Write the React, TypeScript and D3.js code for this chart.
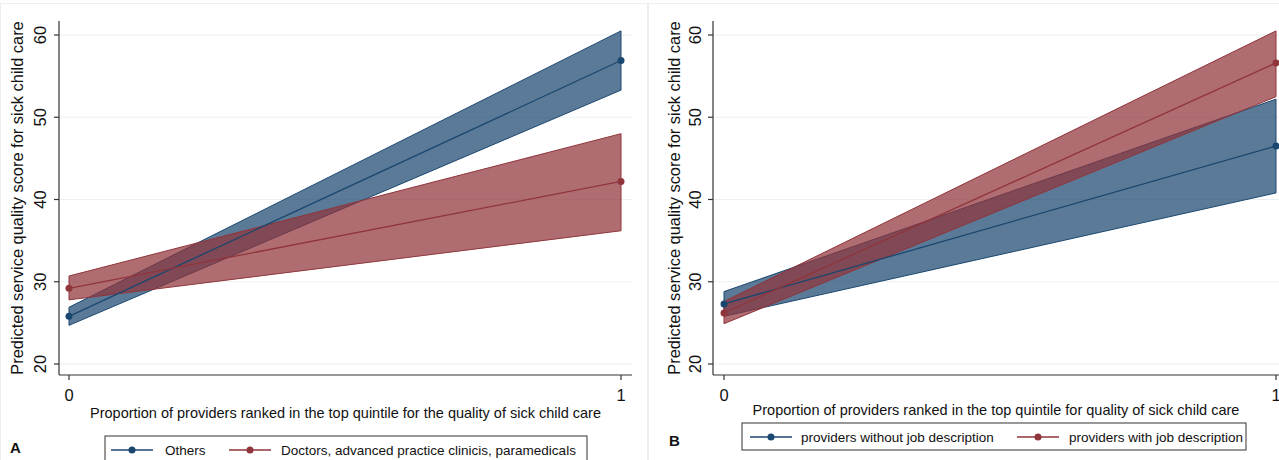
import React from "react";
import * as d3 from "d3";

// x values (proportion of providers in top quintile)
const xValues = [0, 1];
const xTicks = [0, 1];
const yTicks = [20, 30, 40, 50, 60];

// Panel A
const othersFit = [25.8, 56.9];
const othersLo = [24.7, 53.3];
const othersHi = [26.9, 60.5];
const doctorsFit = [29.2, 42.2];
const doctorsLo = [27.8, 36.2];
const doctorsHi = [30.7, 48.0];

// Panel B
const withoutFit = [27.3, 46.5];
const withoutLo = [25.8, 40.8];
const withoutHi = [28.8, 52.2];
const withFit = [26.2, 56.6];
const withLo = [24.9, 52.5];
const withHi = [27.6, 60.5];

const NAVY = "#1a476f";
const MAROON = "#90353b";
const FONT = "'Liberation Sans', Arial, sans-serif";

interface Series {
  name: string;
  color: string;
  fit: number[];
  lo: number[];
  hi: number[];
}

interface PanelProps {
  left: number;
  x0: number;
  x1: number;
  axisRight: number;
  titleX: number;
  tickLabelX: number;
  xTitle: string;
  xTitleY: number;
  letter: string;
  letterX: number;
  letterY: number;
  series: Series[];
  legend: { x: number; y: number; w: number; h: number; items: { lx: number; tx: number }[] };
}

const Panel: React.FC<PanelProps> = (p) => {
  const x = d3.scaleLinear().domain([0, 1]).range([p.x0, p.x1]);
  const y = d3.scaleLinear().domain([20, 60]).range([364, 35]);
  const top = 21;
  const bottom = 375;

  return (
    <g>
      {/* gridlines */}
      {yTicks.map((t) => (
        <line key={"g" + t} x1={p.left} x2={p.axisRight} y1={y(t)} y2={y(t)} stroke="#eaf0f1" strokeWidth={1.2} />
      ))}

      {/* bands */}
      {p.series.map((s) => {
        const pts = xValues.map((v, i) => ({ v, lo: s.lo[i], hi: s.hi[i] }));
        const area = d3
          .area<{ v: number; lo: number; hi: number }>()
          .x((d) => x(d.v))
          .y0((d) => y(d.lo))
          .y1((d) => y(d.hi));
        return (
          <path key={"a" + s.name} d={area(pts) || ""} fill={s.color} fillOpacity={0.72} stroke={s.color} strokeWidth={1} />
        );
      })}

      {/* fitted lines and markers */}
      {p.series.map((s) => {
        const pts = xValues.map((v, i) => ({ v, f: s.fit[i] }));
        const line = d3
          .line<{ v: number; f: number }>()
          .x((d) => x(d.v))
          .y((d) => y(d.f));
        return (
          <g key={"l" + s.name}>
            <path d={line(pts) || ""} fill="none" stroke={s.color} strokeWidth={1.3} />
            {pts.map((d, i) => (
              <circle key={i} cx={x(d.v)} cy={y(d.f)} r={3.5} fill={s.color} />
            ))}
          </g>
        );
      })}

      {/* y axis */}
      <line x1={p.left} x2={p.left} y1={top} y2={bottom} stroke="#333" strokeWidth={1.2} />
      {yTicks.map((t) => (
        <g key={"y" + t}>
          <line x1={p.left - 5} x2={p.left} y1={y(t)} y2={y(t)} stroke="#333" strokeWidth={1.2} />
          <text
            transform={`translate(${p.tickLabelX},${y(t)}) rotate(-90)`}
            textAnchor="middle"
            fontSize={16.5}
            fontFamily={FONT}
            fill="#111"
          >
            {t}
          </text>
        </g>
      ))}
      <text
        transform={`translate(${p.titleX},198) rotate(-90)`}
        textAnchor="middle"
        fontSize={16.4}
        fontFamily={FONT}
        fill="#111"
      >
        Predicted service quality score for sick child care
      </text>

      {/* x axis */}
      <line x1={p.left} x2={p.axisRight} y1={bottom} y2={bottom} stroke="#333" strokeWidth={1.2} />
      {xTicks.map((t) => (
        <g key={"x" + t}>
          <line x1={x(t)} x2={x(t)} y1={bottom} y2={bottom + 5} stroke="#333" strokeWidth={1.2} />
          <text x={x(t)} y={401} textAnchor="middle" fontSize={16.5} fontFamily={FONT} fill="#111">
            {t}
          </text>
        </g>
      ))}
      <text x={(p.left + Math.min(p.axisRight, 1279)) / 2} y={p.xTitleY} textAnchor="middle" fontSize={14.5} fontFamily={FONT} fill="#111">
        {p.xTitle}
      </text>

      {/* legend */}
      <rect x={p.legend.x} y={p.legend.y} width={p.legend.w} height={p.legend.h} fill="#fff" stroke="#333" strokeWidth={1} />
      {p.series.map((s, i) => {
        const it = p.legend.items[i];
        const cy = p.legend.y + 14;
        return (
          <g key={"lg" + s.name}>
            <line x1={it.lx} x2={it.lx + 42} y1={cy} y2={cy} stroke={s.color} strokeWidth={1.3} />
            <circle cx={it.lx + 21} cy={cy} r={3.5} fill={s.color} />
            <text x={it.tx} y={cy + 5} fontSize={13.5} fontFamily={FONT} fill="#111">
              {s.name}
            </text>
          </g>
        );
      })}

      <text x={p.letterX} y={p.letterY} fontSize={15} fontWeight="bold" fontFamily={FONT} fill="#111">
        {p.letter}
      </text>
    </g>
  );
};

const App: React.FC = () => {
  return (
    <svg width={1279} height={460} style={{ position: "absolute", left: 0, top: 0, background: "#fff" }}>
      <rect x={0.5} y={3.5} width={647} height={470} fill="none" stroke="#eeeeee" />
      <rect x={648.5} y={3.5} width={640} height={470} fill="none" stroke="#eeeeee" />
      <Panel
        left={59}
        x0={69}
        x1={621}
        axisRight={632}
        titleX={23}
        tickLabelX={46}
        xTitle="Proportion of providers ranked in the top quintile for the quality of sick child care"
        xTitleY={418}
        letter="A"
        letterX={10}
        letterY={453}
        series={[
          { name: "Others", color: NAVY, fit: othersFit, lo: othersLo, hi: othersHi },
          { name: "Doctors, advanced practice clinicis, paramedicals", color: MAROON, fit: doctorsFit, lo: doctorsLo, hi: doctorsHi },
        ]}
        legend={{ x: 105, y: 436, w: 482, h: 40, items: [{ lx: 111, tx: 165 }, { lx: 229, tx: 281 }] }}
      />
      <Panel
        left={713}
        x0={724}
        x1={1276}
        axisRight={1290}
        titleX={680}
        tickLabelX={701}
        xTitle="Proportion of providers ranked in the top quintile for quality of sick child care"
        xTitleY={415}
        letter="B"
        letterX={669}
        letterY={446}
        series={[
          { name: "providers without job description", color: NAVY, fit: withoutFit, lo: withoutLo, hi: withoutHi },
          { name: "providers with job description", color: MAROON, fit: withFit, lo: withLo, hi: withHi },
        ]}
        legend={{ x: 742, y: 423, w: 504, h: 27, items: [{ lx: 750, tx: 801 }, { lx: 1017, tx: 1069 }] }}
      />
    </svg>
  );
};

export default App;
